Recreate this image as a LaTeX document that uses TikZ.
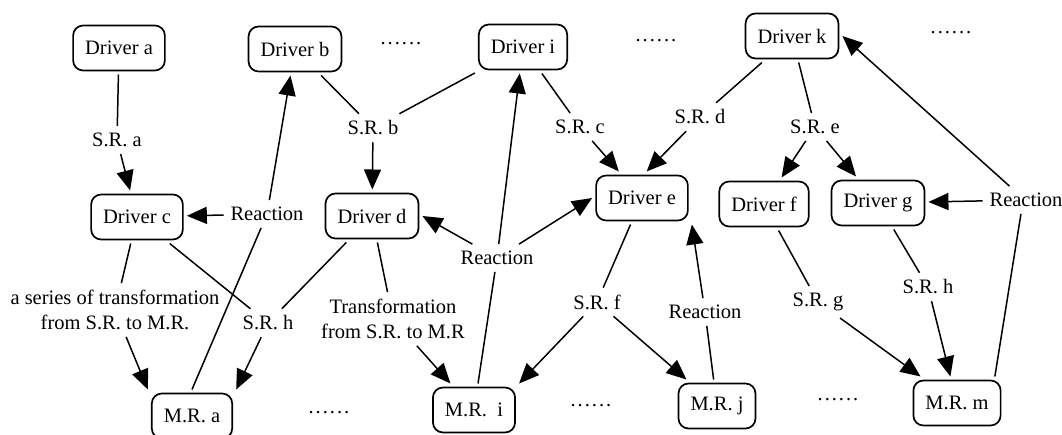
\documentclass[tikz,border=0pt]{standalone}
\usepackage{fontspec}
\setmainfont{Liberation Serif}
\usetikzlibrary{arrows.meta}
\begin{document}
\begin{tikzpicture}[x=1pt,y=-1pt,
  every node/.style={font=\fontsize{20.5}{25}\selectfont},
  box/.style={draw,line width=1.7pt,rounded corners=10pt,minimum height=45pt,inner xsep=12pt,outer sep=4pt},
  lab/.style={inner xsep=2pt,inner ysep=2pt,outer sep=5pt,align=center},
  dotsnode/.style={inner sep=0pt},
  ln/.style={line width=1.5pt},
  arr/.style={line width=1.5pt,-{Triangle[length=20pt,width=17pt]}}]
\useasboundingbox (0,0) rectangle (1062,435);
% boxes
\node[box] (a) at (119,48) {Driver a};
\node[box] (b) at (295,49) {Driver b};
\node[box] (i) at (523,47) {Driver i};
\node[box] (k) at (792,36) {Driver k};
\node[box] (c) at (137,217) {Driver c};
\node[box] (d) at (372,216) {Driver d};
\node[box] (e) at (642,198) {Driver e};
\node[box] (f) at (764,204) {Driver f};
\node[box] (g) at (878,203) {Driver g};
\node[box] (ma) at (192,416) {M.R. a};
\node[box] (mi) at (474,410) {M.R.\ \ i};
\node[box] (mj) at (717,406) {M.R. j};
\node[box] (mm) at (957,403) {M.R. m};
% dots
\newcommand{\sixdots}{.\kern2pt.\kern2pt.\kern2pt.\kern2pt.\kern2pt.}
\node[dotsnode] (d1) at (401,44) {\sixdots};
\node[dotsnode] (d2) at (656,41) {\sixdots};
\node[dotsnode] (d3) at (951,33) {\sixdots};
\node[dotsnode] (d4) at (329,413) {\sixdots};
\node[dotsnode] (d5) at (591,406) {\sixdots};
\node[dotsnode] (d6) at (838,400) {\sixdots};
% labels
\node[lab] (sra) at (117,140) {S.R. a};
\node[lab] (srb) at (373,128) {S.R. b};
\node[lab] (src) at (580,127) {S.R. c};
\node[lab] (srd) at (700,117) {S.R. d};
\node[lab] (sre) at (815,127) {S.R. e};
\node[lab] (rl) at (267,214) {Reaction};
\node[lab] (rm) at (497,258) {Reaction};
\node[lab] (rr) at (1026,200) {Reaction};
\node[lab] (ser) at (115,310) {a series of transformation\\from S.R. to M.R.};
\node[lab] (srhl) at (268,323) {S.R. h};
\node[lab] (tr) at (393,319) {Transformation\\from S.R. to M.R};
\node[lab] (srf) at (597,302) {S.R. f};
\node[lab] (rj) at (705,312) {Reaction};
\node[lab] (srg) at (818,302) {S.R. g};
\node[lab] (srhr) at (928,287) {S.R. h};
% connectors
\draw[ln] (a) -- (sra);
\draw[arr] (sra) -- (c);
\draw[ln] (b) -- (srb);
\draw[ln] (i) -- (srb);
\draw[arr] (srb) -- (d);
\draw[ln] (i) -- (src);
\draw[arr] (src) -- (e);
\draw[ln] (k) -- (srd);
\draw[arr] (srd) -- (e.80);
\draw[ln] (k) -- (sre);
\draw[arr] (sre) -- (f);
\draw[arr] (sre) -- (g);
\draw[arr] (rr.140) -- (k.east);
\draw[arr] (rr) -- (g);
\draw[ln] (mm.35) -- (rr.-110);
\draw[ln] (g) -- (srhr);
\draw[arr] (srhr) -- (mm);
\draw[ln] (f) -- (srg);
\draw[arr] (srg) -- (mm);
\draw[ln] (e) -- (srf);
\draw[arr] (srf) -- (mi.north east);
\draw[arr] (srf) -- (mj);
\draw[ln] (mj) -- (rj);
\draw[arr] (rj) -- (e.south east);
\draw[ln] (mi) -- (rm);
\draw[arr] (rm) -- (i);
\draw[arr] (rm) -- (d.east);
\draw[arr] (rm) -- (e.west);
\draw[ln] (ma.north) -- (rl);
\draw[arr] (rl) -- (c);
\draw[arr] (rl) -- (b);
\draw[ln] (c) -- (ser);
\draw[arr] (ser) -- (ma.north west);
\draw[ln] (c) -- (srhl);
\draw[ln] (d) -- (srhl);
\draw[arr] (srhl) -- (ma.north east);
\draw[ln] (d) -- (tr);
\draw[arr] (tr) -- (mi);
\end{tikzpicture}
\end{document}
